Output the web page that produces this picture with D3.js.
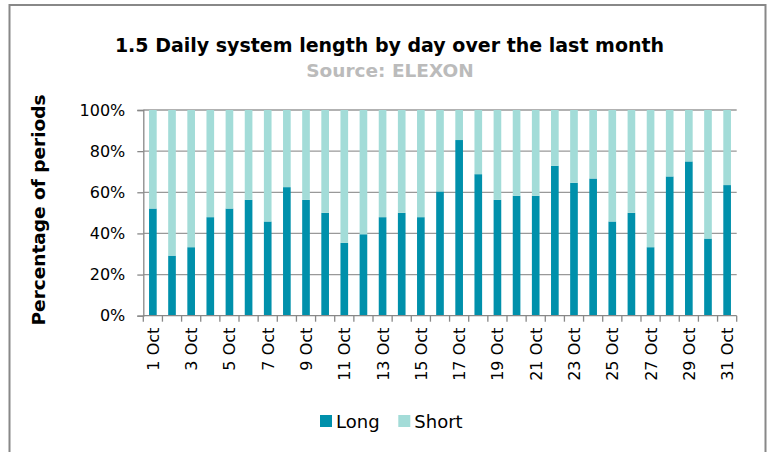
<!DOCTYPE html>
<html>
<head>
<meta charset="utf-8">
<script src="https://cdn.jsdelivr.net/npm/d3@7/dist/d3.min.js"></script>
<style>
  html, body { margin: 0; padding: 0; background: #fff; }
  svg { display: block; }
  text { font-family: "DejaVu Sans", sans-serif; }
</style>
</head>
<body>
<svg id="chart" width="771" height="452"></svg>
<script>
const days = d3.range(1, 32).map(d => d + " Oct");
const longPct = [52.1, 29.2, 33.3, 47.9, 52.1, 56.3, 45.8, 62.5, 56.3, 50.0,
                 35.4, 39.6, 47.9, 50.0, 47.9, 60.4, 85.4, 68.8, 56.3, 58.3,
                 58.3, 72.9, 64.6, 66.7, 45.8, 50.0, 33.3, 67.7, 75.0, 37.5, 63.5];
const shortPct = longPct.map(v => 100 - v);
const yTicks = [0, 20, 40, 60, 80, 100];
const seriesNames = ["Long", "Short"];
const colors = { Long: "#0090ab", Short: "#a3dcd8" };

const svg = d3.select("#chart");
const W = 771, H = 452;
const FONT = '"DejaVu Sans", sans-serif';

// outer frame
svg.append("path")
  .attr("d", `M9.5,${H} L9.5,5 L765.5,5 L765.5,${H}`)
  .attr("fill", "none").attr("stroke", "#888").attr("stroke-width", 2);

const m = { left: 143.3, right: 736.7, top: 110, bottom: 315.7 };
const x = d3.scaleBand().domain(days).range([m.left, m.right]).paddingInner(0.6).paddingOuter(0.3);
const y = d3.scaleLinear().domain([0, 100]).range([m.bottom, m.top]);

// gridlines
svg.append("g").selectAll("line").data(yTicks.filter(t => t > 0)).join("line")
  .attr("x1", m.left).attr("x2", m.right)
  .attr("y1", d => y(d)).attr("y2", d => y(d))
  .attr("stroke", "#999").attr("stroke-width", 1.3);

// stacked bars
const rows = days.map((d, i) => ({ day: d, Long: longPct[i], Short: shortPct[i] }));
const stack = d3.stack().keys(seriesNames)(rows);
svg.append("g").selectAll("g").data(stack).join("g")
  .attr("fill", s => colors[s.key])
  .selectAll("rect").data(s => s).join("rect")
  .attr("x", d => x(d.data.day))
  .attr("width", x.bandwidth())
  .attr("y", d => y(d[1]))
  .attr("height", d => y(d[0]) - y(d[1]));

// y axis
const yAxis = svg.append("g").attr("transform", `translate(${m.left},0)`)
  .call(d3.axisLeft(y).tickValues(yTicks).tickFormat(d => d + "%").tickSize(6).tickPadding(12));
yAxis.select(".domain").attr("stroke", "#888").attr("stroke-width", 1.3);
yAxis.selectAll(".tick line").attr("stroke", "#888").attr("stroke-width", 1.3);
yAxis.selectAll("text").attr("font-size", 16).attr("fill", "#000").style("font-family", FONT);

// x axis
const xg = svg.append("g").attr("transform", `translate(0,${m.bottom})`);
xg.append("line").attr("x1", m.left).attr("x2", m.right).attr("stroke", "#888").attr("stroke-width", 1.3);
const step = x.step();
xg.selectAll("line.tk").data(d3.range(0, 32)).join("line").attr("class", "tk")
  .attr("x1", i => m.left + i * step).attr("x2", i => m.left + i * step)
  .attr("y1", 0).attr("y2", 6).attr("stroke", "#888").attr("stroke-width", 1.3);
xg.selectAll("text").data(days.filter((d, i) => i % 2 === 0)).join("text")
  .attr("transform", d => `translate(${x(d) + x.bandwidth() / 2 + 6},12) rotate(-90)`)
  .attr("text-anchor", "end")
  .attr("font-size", 16).attr("fill", "#000")
  .text(d => d);

// title
svg.append("text").attr("x", 389.5).attr("y", 52).attr("text-anchor", "middle")
  .attr("font-size", 19).attr("font-weight", "bold").attr("fill", "#000")
  .text("1.5 Daily system length by day over the last month");
svg.append("text").attr("x", 390).attr("y", 77).attr("text-anchor", "middle")
  .attr("font-size", 18.5).attr("font-weight", "bold").attr("fill", "#bbbbbb")
  .text("Source: ELEXON");

// y label
svg.append("text").attr("transform", `translate(44.5,210) rotate(-90)`)
  .attr("text-anchor", "middle").attr("font-size", 18.5).attr("font-weight", "bold").attr("fill", "#000")
  .text("Percentage of periods");

// legend
const lg = svg.append("g");
const legendX = [320, 398.3];
seriesNames.forEach((s, i) => {
  lg.append("rect").attr("x", legendX[i]).attr("y", 415).attr("width", 12).attr("height", 12).attr("fill", colors[s]);
  lg.append("text").attr("x", legendX[i] + 16).attr("y", 427.5).attr("font-size", 18).attr("fill", "#000").text(s);
});
</script>
</body>
</html>
